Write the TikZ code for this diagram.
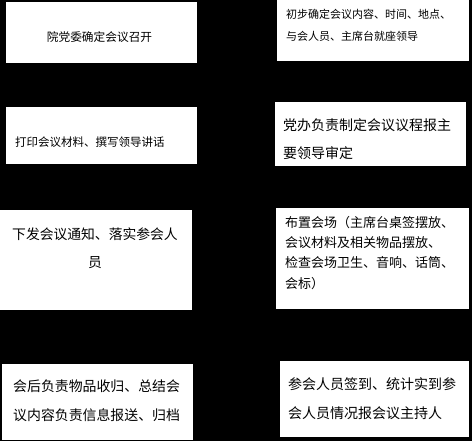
\documentclass[tikz,border=0pt]{standalone}
\usepackage{fontspec}
\newfontfamily\cjk{Noto Sans CJK SC}
\begin{document}
\begin{tikzpicture}[x=1pt,y=-1pt,
  box/.style={fill=white,draw=none},
  txt/.style={inner sep=0pt,text=black,font=\cjk\fontsize{#1}{#1}\selectfont}]
\fill[black] (0,0) rectangle (472,441);
\useasboundingbox (0,0) rectangle (472,441);
% boxes
\path[box] (6,2) rectangle (197,63);
\path[box] (277,0) rectangle (469,61);
\path[box] (6,107) rectangle (197,164);
\path[box] (275,102) rectangle (466,166);
\path[box] (0,210) rectangle (192,310);
\path[box] (276,208) rectangle (469,309);
\path[box] (2,364) rectangle (193,440);
\path[box] (280,361) rectangle (469,437);
% texts
\node[txt=11.7] (t1) at (99.5,37.5) {院党委确定会议召开};
\node[txt=11,anchor=west] (t2a) at (286,14) {初步确定会议内容、时间、地点、};
\node[txt=11,anchor=west] (t2b) at (286,36) {与会人员、主席台就座领导};
\node[txt=11.5,anchor=west] (t3) at (15,142) {打印会议材料、撰写领导讲话};
\node[txt=14,anchor=west] (t4a) at (283,125) {党办负责制定会议议程报主};
\node[txt=14,anchor=west] (t4b) at (283,153.5) {要领导审定};
\node[txt=13.8] (t5a) at (95,234) {下发会议通知、落实参会人};
\node[txt=13.8] (t5b) at (95,262.5) {员};
\node[txt=13,anchor=west] (t6a) at (285,223) {布置会场（主席台桌签摆放、};
\node[txt=13,anchor=west] (t6b) at (285,243) {会议材料及相关物品摆放、};
\node[txt=13,anchor=west] (t6c) at (285,263) {检查会场卫生、音响、话筒、};
\node[txt=13,anchor=west] (t6d) at (285,284) {会标）};
\node[txt=13.9,anchor=west] (t7a) at (13,386) {会后负责物品收归、总结会};
\node[txt=13.9,anchor=west] (t7b) at (13,415) {议内容负责信息报送、归档};
\node[txt=14,anchor=west] (t8a) at (288,384) {参会人员签到、统计实到参};
\node[txt=14,anchor=west] (t8b) at (288,413) {会人员情况报会议主持人};
\end{tikzpicture}
\end{document}
